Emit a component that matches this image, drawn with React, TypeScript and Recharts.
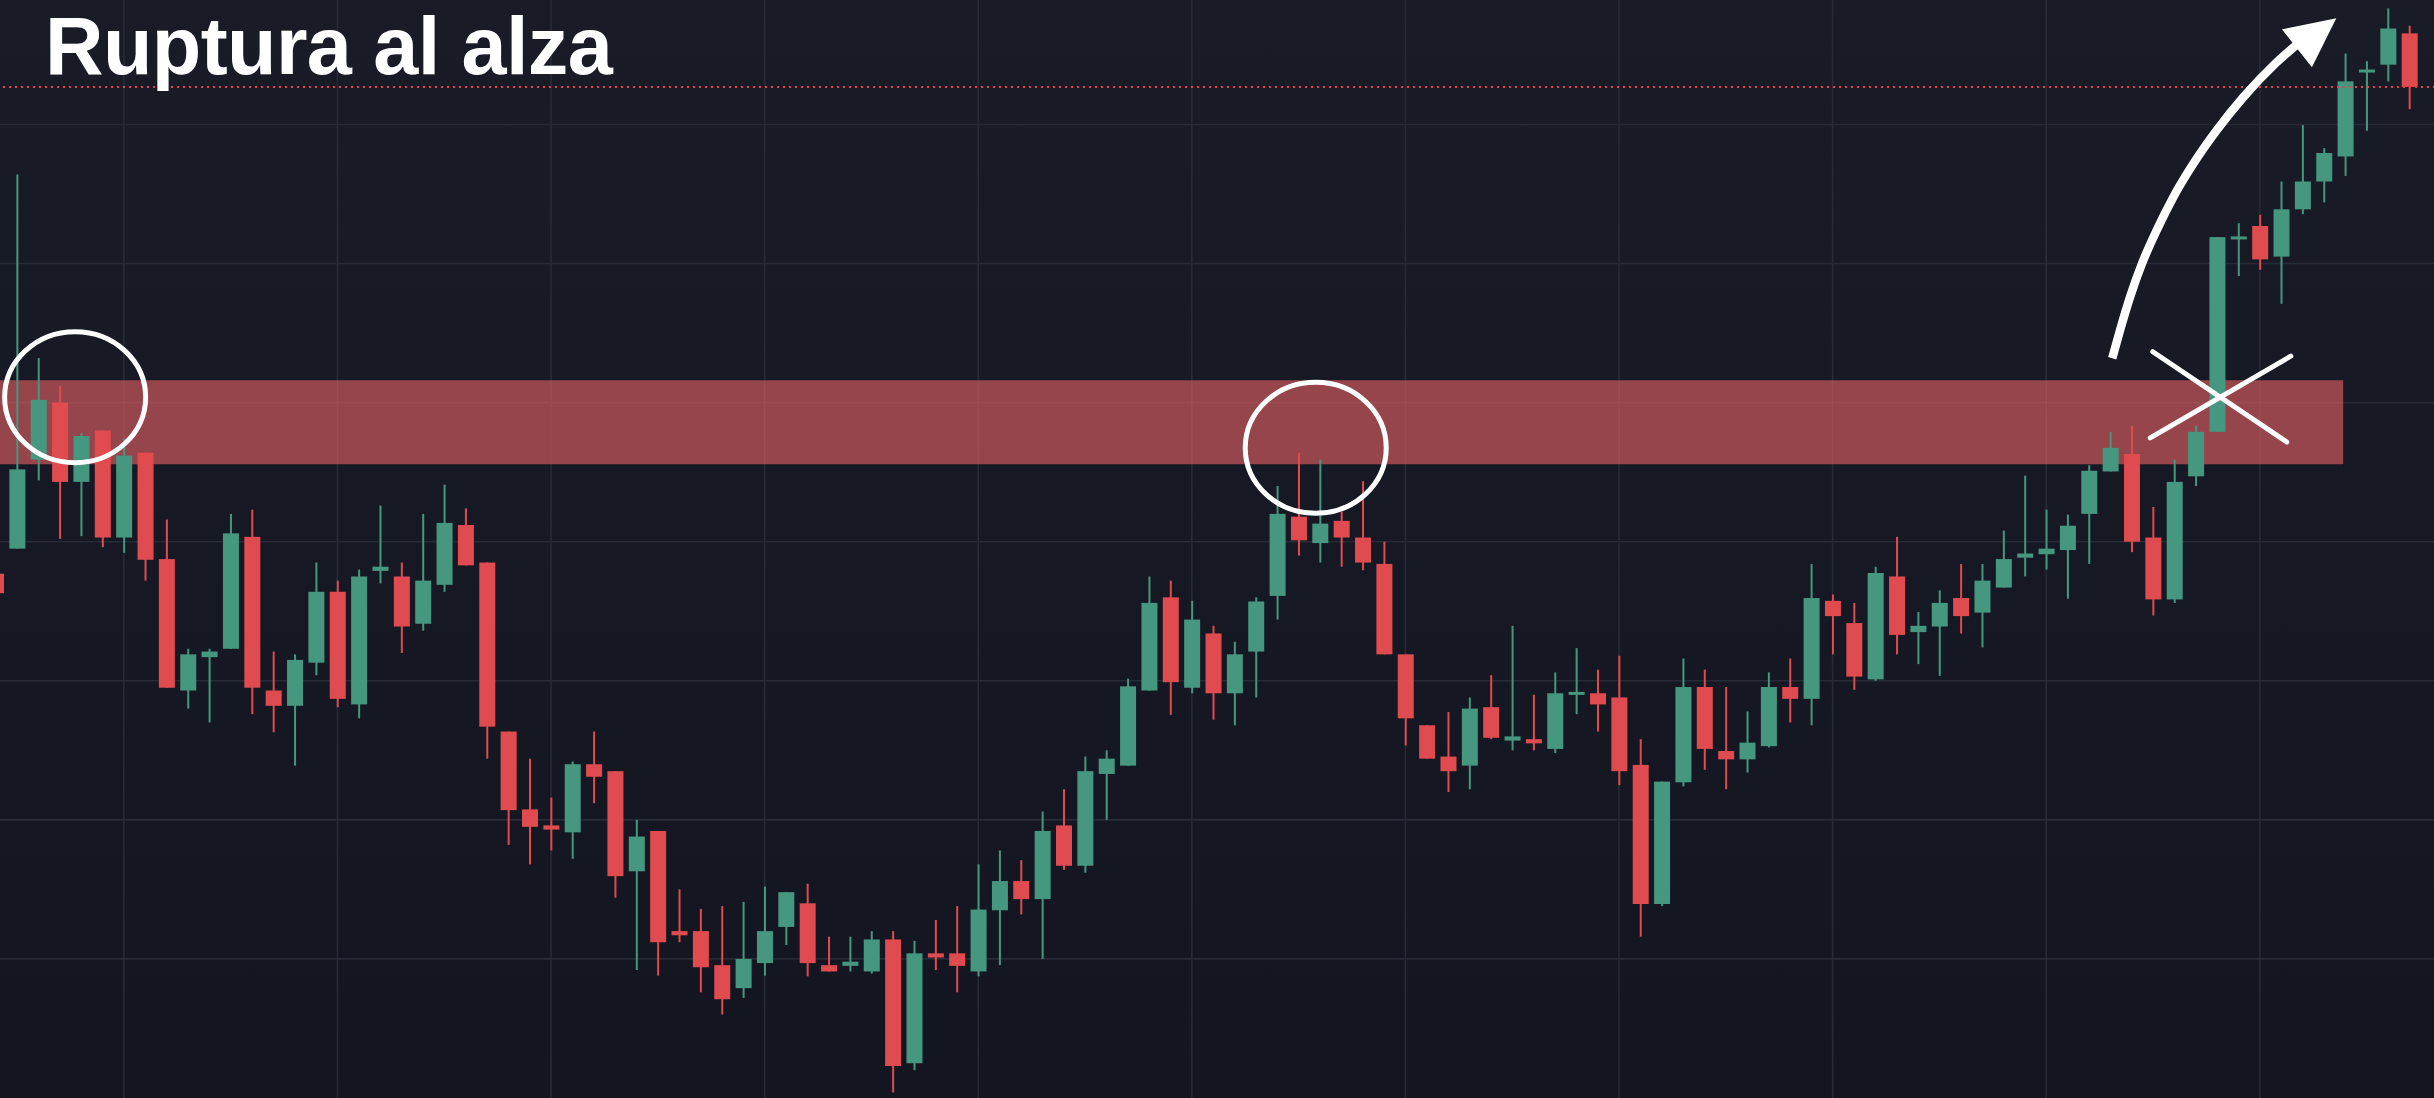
import React from 'react';
import {
  ComposedChart,
  Bar,
  Line,
  XAxis,
  YAxis,
  ReferenceLine,
  ReferenceArea,
  ReferenceDot,
} from 'recharts';

// ---------- data ----------
const titleText = 'Ruptura al alza';

const openPrices = [
  137.7, 139.5, 145.9, 150.0, 144.3, 148.0, 140.3, 146.4, 138.75, 129.3,
  131.7, 132.3, 140.35, 129.3, 128.2, 131.3, 136.4, 128.3, 137.9, 137.5,
  134.1, 136.9, 141.2, 138.5, 126.35, 120.75, 119.6, 119.1, 124.0, 123.5,
  116.3, 119.2, 112.0, 112.0, 109.55, 107.9, 109.7, 112.3, 114.0, 109.55,
  109.5, 109.1, 111.4, 102.5, 110.4, 110.4, 109.1, 113.5, 115.6, 114.3,
  119.6, 116.7, 123.3, 123.9, 129.3, 136.0, 129.5, 133.4, 129.1, 132.1,
  136.1, 141.8, 139.9, 141.5, 140.3, 138.4, 131.9, 126.8, 124.55, 123.9,
  128.1, 125.7, 125.8, 125.1, 129.05, 129.1, 128.8, 123.95, 113.95, 122.7,
  129.55, 124.95, 124.35, 125.3, 129.55, 128.7, 135.75, 134.15, 130.1, 137.5,
  133.5, 133.9, 135.95, 134.9, 136.7, 138.85, 139.1, 139.4, 142.0, 145.05,
  146.3, 140.3, 135.85, 144.7, 147.9, 161.8, 162.7, 160.5, 163.9, 165.9,
  167.7, 173.85, 174.3, 176.55,
];

const highPrices = [
  137.9, 166.4, 153.2, 151.2, 147.8, 148.0, 147.4, 146.4, 141.6, 132.3,
  132.3, 142.0, 142.3, 132.1, 131.9, 138.5, 137.2, 138.0, 142.6, 138.5,
  142.0, 144.1, 142.4, 138.5, 126.35, 124.4, 121.6, 124.2, 126.35, 123.5,
  120.0, 119.2, 115.0, 113.6, 113.8, 114.1, 115.2, 114.8, 115.4, 111.6,
  111.6, 112.0, 112.0, 111.3, 112.8, 113.8, 116.8, 117.8, 117.1, 120.6,
  122.2, 124.55, 125.0, 130.15, 137.5, 137.2, 135.75, 133.95, 132.8, 136.0,
  144.0, 146.4, 145.9, 142.15, 144.35, 140.0, 131.9, 126.8, 127.75, 128.8,
  130.4, 133.95, 129.0, 130.6, 132.35, 130.8, 131.8, 125.8, 122.75, 131.6,
  130.8, 129.55, 127.8, 130.6, 131.6, 138.4, 136.2, 135.6, 138.2, 140.35,
  134.95, 136.5, 138.4, 138.4, 140.8, 144.75, 142.3, 141.95, 145.5, 147.9,
  148.35, 142.5, 145.9, 148.35, 161.9, 162.9, 163.5, 165.9, 169.95, 168.3,
  175.1, 174.55, 178.35, 177.1,
];

const lowPrices = [
  136.1, 139.5, 144.4, 140.2, 140.4, 139.6, 139.2, 137.2, 129.5, 128.0,
  127.0, 132.3, 127.6, 126.3, 123.9, 130.4, 128.1, 127.3, 137.0, 132.0,
  133.6, 136.4, 138.3, 124.4, 118.2, 116.8, 117.8, 117.2, 121.2, 114.4,
  109.2, 108.8, 111.2, 107.6, 106.0, 107.2, 108.8, 111.0, 108.75, 109.1,
  109.1, 108.95, 100.4, 102.0, 109.2, 107.6, 108.75, 109.55, 113.2, 110.0,
  116.4, 116.2, 120.0, 123.9, 129.3, 127.55, 129.1, 127.2, 126.8, 128.8,
  134.4, 139.0, 138.5, 138.2, 137.95, 131.9, 125.35, 124.4, 122.0, 122.2,
  125.8, 125.0, 125.0, 124.8, 127.6, 126.35, 122.5, 111.6, 113.8, 122.4,
  123.6, 122.2, 123.4, 125.2, 127.0, 126.8, 131.9, 129.35, 130.0, 131.9,
  131.2, 130.35, 133.4, 132.4, 136.7, 137.5, 138.0, 135.9, 138.4, 145.05,
  139.25, 134.7, 135.6, 144.0, 147.9, 159.1, 159.55, 157.1, 163.55, 164.4,
  166.3, 169.55, 173.1, 171.1,
];

const closePrices = [
  136.3, 145.2, 150.2, 144.3, 147.6, 140.3, 146.2, 138.7, 129.5, 131.9,
  132.1, 140.6, 129.5, 128.2, 131.5, 136.4, 128.7, 137.5, 138.2, 133.9,
  137.2, 141.35, 138.3, 126.7, 120.7, 119.5, 119.3, 124.0, 123.1, 115.95,
  118.8, 111.2, 111.7, 109.4, 107.1, 110.0, 112.0, 114.8, 109.7, 109.1,
  109.8, 111.4, 102.3, 110.4, 110.1, 109.5, 113.55, 115.6, 114.3, 119.2,
  116.7, 123.5, 124.4, 129.6, 135.6, 129.9, 134.4, 129.1, 131.9, 135.7,
  142.0, 140.1, 141.3, 140.3, 138.5, 131.9, 127.3, 124.4, 123.5, 128.0,
  125.9, 126.0, 125.5, 129.1, 129.2, 128.3, 123.5, 113.95, 122.75, 129.55,
  125.1, 124.35, 125.55, 129.55, 128.7, 135.95, 134.65, 130.3, 137.75, 133.3,
  133.95, 135.6, 134.65, 137.2, 138.75, 139.15, 139.5, 141.15, 145.1, 146.75,
  140.0, 135.85, 144.3, 147.9, 161.9, 161.95, 160.3, 163.9, 165.9, 167.95,
  173.1, 173.95, 176.9, 172.7,
];

// price levels of the horizontal grid and candle slots of the vertical grid
const gridPrices = [110, 120, 130, 140, 150, 160, 170];
const gridCandles = [6, 16, 26, 36, 46, 56, 66, 76, 86, 96, 106];

// resistance zone (price band) and its right end (candle slot)
const zoneBottom = 145.56;
const zoneTop = 151.6;
const zoneEndSlot = 109.9;

// white circled tests of the zone (candle slot, price)
const circleMarks = [
  { i: 3.72, p: 150.39 },
  { i: 61.8, p: 146.75 },
];

// white curved arrow (candle slot, price)
const arrowCurve = [
  { i: 99.09, p: 153.19 },
  { i: 99.46, p: 155.23 },
  { i: 99.93, p: 157.62 },
  { i: 100.49, p: 160.02 },
  { i: 101.18, p: 162.42 },
  { i: 101.96, p: 164.81 },
  { i: 102.9, p: 167.21 },
  { i: 103.99, p: 169.6 },
  { i: 105.25, p: 172.0 },
  { i: 106.74, p: 174.4 },
  { i: 107.71, p: 175.72 },
];
const arrowTip = { i: 109.58, p: 177.63 };

// white cross at the breakout
const crossLines = [
  [{ i: 100.99, p: 153.66 }, { i: 107.26, p: 147.17 }],
  [{ i: 100.87, p: 147.46 }, { i: 107.45, p: 153.34 }],
];

// ---------- chart constants ----------
const GREEN = '#46977f';
const RED = '#e04b4f';
const GRID = '#272b37';
const CANDLES = openPrices.length;
const SLOTS = CANDLES + 1; // one empty slot at the right edge
const STEP = 21.36;
const PLOT_W = STEP * SLOTS;
const RIGHT_MARGIN = 20;
const LEFT_SHIFT = -3.86 - STEP / 2;
const W = 2434;
const H = 1098;
const Y_DOMAIN: [number, number] = [100, 178.95];

const slots = Array.from({ length: SLOTS }, (_, i) => i);
const rows = slots.map((i) =>
  i < CANDLES
    ? {
        i,
        open: openPrices[i],
        high: highPrices[i],
        low: lowPrices[i],
        close: closePrices[i],
        range: [lowPrices[i], highPrices[i]],
      }
    : { i }
);
const lastClose = closePrices[closePrices.length - 1];

const Candle = (props: any) => {
  const { x, y, width, height, payload } = props;
  if (!payload || payload.open == null || !isFinite(y) || !isFinite(height)) return null;
  const { open, close, high, low } = payload;
  const top = Math.min(y, y + height);
  const h = Math.abs(height);
  const span = high - low || 1;
  const toY = (v: number) => top + ((high - v) / span) * h;
  const up = close >= open;
  const color = up ? GREEN : RED;
  const bodyTop = toY(Math.max(open, close));
  const bodyBottom = toY(Math.min(open, close));
  const bodyH = Math.max(bodyBottom - bodyTop, 3);
  const cx = x + width / 2;
  return (
    <g>
      <rect x={cx - 1} y={top} width={2} height={Math.max(h, 1)} fill={color} />
      <rect x={x} y={bodyTop} width={width} height={bodyH} fill={color} />
    </g>
  );
};

const Ellipse = (props: any) => (
  <ellipse
    cx={props.cx}
    cy={props.cy}
    rx={70.5}
    ry={65.5}
    fill="none"
    stroke="#ffffff"
    strokeWidth={5}
  />
);

const ArrowHead = (props: any) => {
  const { cx, cy } = props;
  const pts = [
    [cx, cy],
    [cx - 54.4, cy + 11],
    [cx - 24.4, cy + 48.9],
  ]
    .map((q) => q.join(','))
    .join(' ');
  return <polygon points={pts} fill="#ffffff" />;
};

export default function App() {
  return (
    <div
      style={{
        position: 'fixed',
        left: 0,
        top: 0,
        width: W,
        height: H,
        overflow: 'hidden',
        background: 'linear-gradient(#191c27, #131621)',
      }}
    >
      <div style={{ position: 'absolute', left: LEFT_SHIFT, top: 0 }}>
        <ComposedChart
          width={PLOT_W + RIGHT_MARGIN}
          height={H}
          data={rows}
          margin={{ top: 0, right: RIGHT_MARGIN, bottom: 0, left: 0 }}
        >
          <XAxis dataKey="i" type="category" hide />
          <XAxis
            xAxisId="n"
            dataKey="i"
            type="number"
            domain={[-0.5, SLOTS - 0.5]}
            allowDataOverflow
            hide
          />
          <YAxis type="number" domain={Y_DOMAIN} allowDataOverflow hide />

          {gridPrices.map((v) => (
            <ReferenceLine
              key={'h' + v}
              y={v}
              stroke={GRID}
              strokeWidth={1.6}
              zIndex={-100}
            />
          ))}
          {gridCandles.map((v) => (
            <ReferenceLine
              key={'v' + v}
              xAxisId="n"
              x={v}
              stroke={GRID}
              strokeWidth={1.6}
              zIndex={-100}
            />
          ))}

          <ReferenceArea
            xAxisId="n"
            x1={-0.5}
            x2={zoneEndSlot}
            y1={zoneBottom}
            y2={zoneTop}
            fill="#eb6366"
            fillOpacity={0.6}
            stroke="none"
          />

          <ReferenceLine
            y={lastClose}
            stroke="#ec404a"
            strokeWidth={2}
            strokeDasharray="2 4"
          />

          <Bar
            dataKey="range"
            barSize={16}
            isAnimationActive={false}
            shape={<Candle />}
          />

          {circleMarks.map((c, k) => (
            <ReferenceDot
              key={'c' + k}
              xAxisId="n"
              x={c.i}
              y={c.p}
              r={1}
              ifOverflow="visible"
              shape={<Ellipse />}
            />
          ))}

          {crossLines.map((seg, k) => (
            <ReferenceLine
              key={'x' + k}
              xAxisId="n"
              segment={[
                { x: seg[0].i, y: seg[0].p },
                { x: seg[1].i, y: seg[1].p },
              ]}
              stroke="#ffffff"
              strokeWidth={5}
              strokeLinecap="round"
            />
          ))}

          <Line
            xAxisId="n"
            data={arrowCurve}
            dataKey="p"
            type="monotone"
            stroke="#ffffff"
            strokeWidth={8.5}
            dot={false}
            activeDot={false}
            isAnimationActive={false}
          />
          <ReferenceDot
            xAxisId="n"
            x={arrowTip.i}
            y={arrowTip.p}
            r={1}
            ifOverflow="visible"
            shape={<ArrowHead />}
          />
        </ComposedChart>
      </div>
      <div
        style={{
          position: 'absolute',
          left: 45,
          top: 6,
          fontFamily: '"Liberation Sans", Arial, sans-serif',
          fontWeight: 700,
          fontSize: 81,
          lineHeight: '81px',
          letterSpacing: -0.6,
          color: '#ffffff',
          whiteSpace: 'nowrap',
        }}
      >
        {titleText}
      </div>
    </div>
  );
}
